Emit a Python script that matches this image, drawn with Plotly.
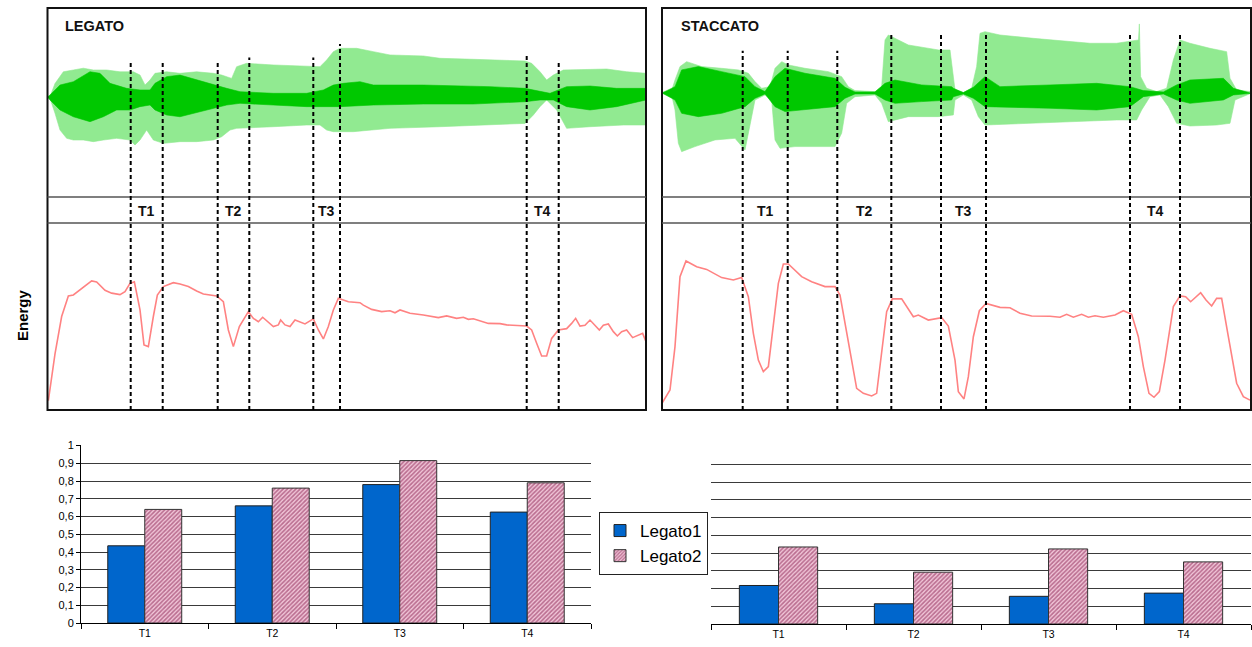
import plotly.graph_objects as go

# ------------------------------------------------------------------ DATA
# time in analysis frames, waveform amplitude (normalised), energy (normalised)

# LEGATO waveform envelopes: (frame, amplitude)
legato_outer_upper = [(0, 0.0), (0.5, 0.004), (1.5, 0.15), (3.17, 0.28), (5.17, 0.30), (7.17, 0.32), (9.17, 0.30),
                      (11.83, 0.30), (14.5, 0.28), (17.17, 0.28), (18.5, 0.244), (19.5, 0.133), (20.5, 0.189),
                      (21.5, 0.263), (23.83, 0.28), (26.5, 0.263), (29.83, 0.28), (33.17, 0.263), (34.83, 0.244),
                      (36.83, 0.207), (37.83, 0.337), (39.83, 0.374), (45.17, 0.356), (51.83, 0.348), (54.5, 0.337),
                      (55.83, 0.411), (57.17, 0.504), (58.5, 0.541), (61.83, 0.541), (65.17, 0.504), (68.5, 0.467),
                      (75.17, 0.456), (78.5, 0.43), (85.17, 0.419), (91.83, 0.411), (95.5, 0.40), (96.83, 0.374),
                      (98.5, 0.281), (99.83, 0.189), (101.17, 0.244), (103.17, 0.30), (106.5, 0.307), (111.83, 0.311),
                      (115.83, 0.281), (119.7, 0.263)]
legato_outer_lower = [(0, 0.0), (0.5, -0.015), (1.5, -0.181), (2.5, -0.367), (3.83, -0.459), (5.17, -0.478),
                      (7.17, -0.478), (9.17, -0.496), (11.17, -0.478), (13.83, -0.459), (16.5, -0.478), (17.5, -0.533),
                      (18.5, -0.478), (19.83, -0.367), (21.17, -0.478), (23.17, -0.515), (26.5, -0.496), (29.83, -0.496),
                      (33.17, -0.478), (34.83, -0.441), (36.5, -0.367), (37.83, -0.348), (39.83, -0.348), (45.17, -0.33),
                      (51.83, -0.311), (54.5, -0.311), (55.83, -0.367), (57.17, -0.385), (61.17, -0.385), (68.5, -0.348),
                      (78.5, -0.33), (88.5, -0.311), (95.5, -0.293), (97.17, -0.2), (98.5, -0.107), (99.83, -0.033),
                      (101.83, -0.144), (103.83, -0.348), (108.5, -0.33), (115.17, -0.311), (119.7, -0.311)]
legato_inner_upper = [(0, 0.0), (0.5, 0.022), (2.5, 0.133), (5.17, 0.17), (8.5, 0.281), (10.5, 0.263), (12.5, 0.152),
                      (15.83, 0.096), (18.5, 0.078), (20.5, 0.078), (21.5, 0.152), (23.83, 0.226), (26.5, 0.244),
                      (29.83, 0.189), (33.17, 0.133), (35.83, 0.096), (38.5, 0.059), (45.17, 0.041), (51.83, 0.041),
                      (55.17, 0.078), (57.17, 0.133), (59.17, 0.152), (62.5, 0.17), (65.17, 0.133), (75.17, 0.133),
                      (88.5, 0.115), (95.5, 0.096), (98.5, 0.059), (100.5, 0.041), (103.83, 0.115), (108.5, 0.122),
                      (113.83, 0.096), (119.7, 0.096)]
legato_inner_lower = [(0, 0.0), (0.5, -0.033), (2.5, -0.144), (5.17, -0.219), (8.5, -0.274), (11.17, -0.219),
                      (13.83, -0.144), (16.5, -0.144), (18.5, -0.107), (20.5, -0.089), (21.5, -0.144), (23.83, -0.2),
                      (26.5, -0.219), (29.83, -0.181), (33.17, -0.126), (35.83, -0.089), (38.5, -0.07), (45.17, -0.089),
                      (51.83, -0.107), (58.5, -0.107), (65.17, -0.089), (75.17, -0.078), (85.17, -0.078), (95.5, -0.052),
                      (98.5, -0.033), (101.17, -0.033), (103.83, -0.107), (108.5, -0.144), (113.83, -0.107),
                      (119.7, -0.033)]

# STACCATO waveform envelopes: (frame, amplitude)
staccato_outer_upper = [(0, 0.004), (1.93, 0.026), (2.6, 0.144), (3.6, 0.293), (4.93, 0.348), (7.93, 0.293),
                        (11.93, 0.274), (15.27, 0.256), (17.27, 0.219), (18.6, 0.126), (19.93, 0.052), (21.6, 0.07),
                        (22.6, 0.274), (23.93, 0.348), (25.27, 0.311), (28.6, 0.274), (33.27, 0.237), (35.93, 0.181),
                        (37.27, 0.07), (38.6, 0.026), (42.6, 0.015), (43.93, 0.07), (44.6, 0.589), (45.27, 0.644),
                        (49.27, 0.533), (55.27, 0.478), (57.6, 0.478), (58.13, 0.219), (58.6, 0.033), (60.27, 0.004),
                        (61.93, 0.052), (62.93, 0.293), (63.6, 0.663), (64.6, 0.681), (67.6, 0.644), (74.27, 0.607),
                        (80.93, 0.57), (85.6, 0.552), (90.93, 0.552), (93.6, 0.57), (95.3, 0.589), (95.47, 0.767),
                        (95.6, 0.40), (95.73, 0.181), (96.93, 0.052), (98.93, 0.015), (100.93, 0.052), (102.27, 0.367),
                        (103.6, 0.589), (105.6, 0.552), (109.6, 0.496), (112.93, 0.459), (113.6, 0.163),
                        (114.93, 0.033), (117.8, 0.015)]
staccato_outer_lower = [(0, -0.004), (1.93, -0.022), (2.6, -0.189), (3.27, -0.559), (3.93, -0.652), (6.6, -0.596),
                        (10.6, -0.522), (14.6, -0.504), (16.6, -0.633), (17.27, -0.448), (18.6, -0.078), (20.6, -0.022),
                        (21.93, -0.078), (22.6, -0.522), (23.6, -0.615), (26.6, -0.596), (30.6, -0.596), (34.6, -0.596),
                        (35.93, -0.448), (36.93, -0.115), (38.6, -0.041), (42.6, -0.022), (43.93, -0.115),
                        (45.27, -0.319), (49.27, -0.263), (55.27, -0.263), (58.27, -0.244), (58.6, -0.078),
                        (60.27, -0.022), (61.93, -0.078), (63.27, -0.263), (64.6, -0.356), (70.93, -0.337),
                        (80.93, -0.319), (90.93, -0.3), (94.93, -0.3), (95.93, -0.189), (97.6, -0.041), (99.6, -0.022),
                        (101.27, -0.152), (102.93, -0.337), (105.6, -0.367), (110.93, -0.356), (113.6, -0.337),
                        (114.6, -0.078), (117.8, -0.004)]
staccato_inner_upper = [(0, 0.0), (2.6, 0.07), (3.93, 0.256), (7.27, 0.293), (11.93, 0.237), (16.6, 0.181),
                        (18.6, 0.07), (20.6, 0.015), (22.6, 0.181), (24.6, 0.274), (28.6, 0.219), (34.6, 0.163),
                        (36.6, 0.063), (38.6, 0.011), (42.6, 0.011), (44.6, 0.107), (46.6, 0.144), (51.93, 0.089),
                        (57.93, 0.07), (58.27, 0.052), (60.27, 0.004), (62.27, 0.063), (64.6, 0.181), (67.6, 0.07),
                        (77.6, 0.089), (86.93, 0.107), (93.6, 0.07), (96.27, 0.026), (100.27, 0.011), (102.93, 0.089),
                        (105.6, 0.144), (112.27, 0.163), (114.27, 0.052), (117.8, 0.004)]
staccato_inner_lower = [(0, 0.0), (2.6, -0.078), (3.93, -0.226), (7.27, -0.263), (11.93, -0.226), (16.6, -0.152),
                        (18.6, -0.059), (20.6, -0.011), (22.6, -0.152), (24.6, -0.207), (28.6, -0.189), (34.6, -0.152),
                        (36.6, -0.059), (38.6, -0.011), (42.6, -0.011), (44.6, -0.078), (46.6, -0.115), (51.93, -0.096),
                        (57.93, -0.078), (58.27, -0.041), (60.27, -0.011), (62.27, -0.059), (64.6, -0.152),
                        (67.6, -0.152), (77.6, -0.17), (86.93, -0.189), (93.6, -0.152), (96.27, -0.041),
                        (100.27, -0.011), (102.93, -0.078), (105.6, -0.115), (112.27, -0.078), (114.27, -0.022),
                        (117.8, -0.004)]

# Energy curves: (frame, energy)
legato_energy = [(0.17, 0.05), (1.5, 0.30), (2.83, 0.50), (4.17, 0.61), (5.17, 0.615), (6.83, 0.65), (8.83, 0.69),
                 (9.83, 0.685), (11.5, 0.64), (12.83, 0.625), (14.5, 0.617), (15.5, 0.633), (16.5, 0.677),
                 (17.37, 0.686), (18.5, 0.535), (19.3, 0.348), (20.17, 0.339), (21.17, 0.50), (21.97, 0.615),
                 (23.17, 0.66), (25.17, 0.681), (26.5, 0.674), (28.17, 0.66), (29.83, 0.636), (31.17, 0.62),
                 (33.83, 0.61), (35.17, 0.579), (36.17, 0.428), (37.17, 0.339), (38.37, 0.446), (40.17, 0.526),
                 (41.17, 0.49), (42.17, 0.472), (43.03, 0.496), (43.83, 0.478), (45.17, 0.446), (46.17, 0.455),
                 (46.63, 0.481), (47.5, 0.455), (48.5, 0.446), (49.5, 0.481), (50.5, 0.472), (51.5, 0.46),
                 (53.17, 0.487), (54.17, 0.428), (55.17, 0.38), (56.17, 0.446), (57.17, 0.535), (58.17, 0.597),
                 (59.17, 0.588), (60.17, 0.579), (62.5, 0.574), (63.17, 0.561), (64.83, 0.538), (66.83, 0.526),
                 (68.5, 0.531), (69.5, 0.52), (70.5, 0.535), (72.5, 0.517), (75.17, 0.508), (78.17, 0.494),
                 (79.83, 0.503), (81.83, 0.49), (83.17, 0.496), (84.17, 0.485), (85.17, 0.488), (86.5, 0.476),
                 (88.17, 0.463), (90.5, 0.462), (91.83, 0.455), (95.83, 0.449), (96.83, 0.428), (97.83, 0.357),
                 (98.83, 0.289), (99.83, 0.289), (100.83, 0.383), (102.17, 0.428), (103.83, 0.435), (104.83, 0.463),
                 (105.63, 0.49), (106.5, 0.449), (107.5, 0.453), (108.5, 0.481), (109.5, 0.455), (110.37, 0.428),
                 (111.17, 0.453), (112.17, 0.46), (113.17, 0.419), (113.97, 0.396), (114.83, 0.419), (115.83, 0.428),
                 (117.03, 0.387), (118.17, 0.401), (119.03, 0.41), (119.7, 0.365)]
staccato_energy = [(0, 0.036), (1.6, 0.107), (2.6, 0.339), (3.6, 0.713), (4.8, 0.797), (6.93, 0.766), (8.93, 0.752),
                   (11.93, 0.708), (14.27, 0.695), (15.93, 0.709), (17.27, 0.606), (18.27, 0.41), (19.27, 0.267),
                   (20.27, 0.205), (21.27, 0.232), (22.27, 0.446), (23.27, 0.677), (24.27, 0.781), (25.27, 0.781),
                   (27.93, 0.713), (29.93, 0.686), (32.6, 0.66), (34.6, 0.66), (35.6, 0.615), (36.93, 0.41),
                   (37.93, 0.25), (38.93, 0.116), (40.27, 0.089), (41.93, 0.075), (42.93, 0.089), (43.93, 0.303),
                   (44.93, 0.526), (46.07, 0.594), (47.93, 0.594), (50.27, 0.499), (51.27, 0.508), (53.27, 0.481),
                   (55.93, 0.494), (57.27, 0.449), (58.6, 0.267), (59.27, 0.098), (60.4, 0.059), (61.27, 0.178),
                   (62.27, 0.392), (63.47, 0.531), (64.8, 0.57), (67.6, 0.549), (69.6, 0.547), (71.6, 0.517),
                   (73.93, 0.503), (77.6, 0.501), (79.6, 0.496), (80.93, 0.512), (82.27, 0.496), (83.93, 0.512),
                   (85.27, 0.496), (86.6, 0.504), (88.27, 0.496), (90.6, 0.508), (92.27, 0.531), (93.93, 0.512),
                   (95.27, 0.392), (96.27, 0.232), (97.4, 0.089), (98.4, 0.068), (99.47, 0.098), (100.6, 0.267),
                   (102.27, 0.553), (103.6, 0.61), (104.73, 0.606), (105.73, 0.579), (107.73, 0.627), (108.8, 0.588),
                   (109.93, 0.556), (110.93, 0.597), (111.93, 0.597), (113.27, 0.392), (114.93, 0.143),
                   (116.27, 0.071), (117.6, 0.053)]

# Transition boundaries (frames) and the amplitude where each marker starts
legato_bounds = [16.64, 23.04, 34.04, 40.36, 53.16, 58.5, 95.84, 102.24]
legato_marker_top = [0.39, 0.39, 0.39, 0.44, 0.44, 0.59, 0.49, 0.39]
staccato_bounds = [16.14, 25.14, 35.06, 45.86, 55.8, 64.8, 93.6, 103.6]
staccato_marker_top = [0.47, 0.47, 0.47, 0.67, 0.67, 0.67, 0.67, 0.67]
transition_labels = ["T1", "T2", "T3", "T4"]

# Bar charts
categories = ["T1", "T2", "T3", "T4"]
legato1 = [0.435, 0.66, 0.78, 0.625]
legato2 = [0.64, 0.76, 0.915, 0.79]
staccato1 = [0.217, 0.114, 0.156, 0.174]
staccato2 = [0.434, 0.292, 0.423, 0.35]
y_ticks = [0, 0.1, 0.2, 0.3, 0.4, 0.5, 0.6, 0.7, 0.8, 0.9, 1]
y_ticktext = ["0", "0,1", "0,2", "0,3", "0,4", "0,5", "0,6", "0,7", "0,8", "0,9", "1"]

# ------------------------------------------------------------------ STYLE / LAYOUT
W, H = 1252, 647
FONT = "Liberation Sans, Arial, sans-serif"
LIGHT_G = "rgb(145,234,145)"
DARK_G = "rgb(0,200,0)"
ENERGY_C = "rgb(255,130,130)"
BLUE = "#0066CC"

def px_x(p):
    return p / W

def px_y(p):
    return 1 - p / H

L_X = [px_x(47.5), px_x(646)]
R_X = [px_x(662), px_x(1251)]
WAVE_Y = [px_y(197), px_y(8)]
EN_Y = [px_y(410), px_y(223)]
L_WAVE_RANGE = [-1.111, 0.989]
R_WAVE_RANGE = [-1.156, 0.944]
L_FR = [0, 119.7]
R_FR = [0, 117.8]


def polygon(upper, lower):
    xs = [p[0] for p in upper] + [p[0] for p in reversed(lower)]
    ys = [p[1] for p in upper] + [p[1] for p in reversed(lower)]
    return xs, ys


fig = go.Figure()

def add_wave(outer_u, outer_l, inner_u, inner_l, xa, ya):
    for up, lo, col in [(outer_u, outer_l, LIGHT_G), (inner_u, inner_l, DARK_G)]:
        xs, ys = polygon(up, lo)
        fig.add_trace(go.Scatter(x=xs, y=ys, fill="toself", fillcolor=col, mode="lines",
                                 line=dict(width=0.6, color=col), xaxis=xa, yaxis=ya,
                                 showlegend=False, hoverinfo="skip"))

add_wave(legato_outer_upper, legato_outer_lower, legato_inner_upper, legato_inner_lower, "x", "y")
add_wave(staccato_outer_upper, staccato_outer_lower, staccato_inner_upper, staccato_inner_lower, "x3", "y3")

for data, xa, ya in [(legato_energy, "x2", "y2"), (staccato_energy, "x4", "y4")]:
    fig.add_trace(go.Scatter(x=[p[0] for p in data], y=[p[1] for p in data], mode="lines",
                             line=dict(color=ENERGY_C, width=1.6), xaxis=xa, yaxis=ya,
                             showlegend=False, hoverinfo="skip"))

pattern_marker = dict(color="rgb(226,170,195)", line=dict(color="#333333", width=1),
                      pattern=dict(shape="/", fgcolor="rgb(130,20,70)", bgcolor="rgb(242,200,218)",
                                   size=3, solidity=0.55))
blue_marker = dict(color=BLUE, line=dict(color="#222222", width=1))

fig.add_trace(go.Bar(x=categories, y=legato1, name="Legato1", marker=blue_marker, xaxis="x5", yaxis="y5"))
fig.add_trace(go.Bar(x=categories, y=legato2, name="Legato2", marker=pattern_marker, xaxis="x5", yaxis="y5"))
fig.add_trace(go.Bar(x=categories, y=staccato1, name="Staccato1", marker=blue_marker, xaxis="x6", yaxis="y6",
                     showlegend=False))
fig.add_trace(go.Bar(x=categories, y=staccato2, name="Staccato2", marker=pattern_marker, xaxis="x6", yaxis="y6",
                     showlegend=False))

hidden = dict(visible=False, fixedrange=True, automargin=False)
bar_x = dict(showline=True, linecolor="black", linewidth=1, ticks="outside", tickson="boundaries",
             ticklen=5, tickcolor="black", tickfont=dict(size=10.5, color="black", family=FONT),
             showgrid=False, zeroline=False, automargin=False, fixedrange=True)
bar_grid = dict(range=[0, 1.003], showgrid=True, gridcolor="#3a3a3a", gridwidth=1, zeroline=False,
                tickvals=y_ticks, automargin=False, fixedrange=True)

fig.update_layout(
    width=W, height=H, margin=dict(l=0, r=0, t=0, b=0, pad=0, autoexpand=False),
    paper_bgcolor="white", plot_bgcolor="rgba(0,0,0,0)",
    font=dict(family=FONT, color="black"),
    barmode="group", bargap=0.42, bargroupgap=0,
    xaxis=dict(domain=L_X, range=L_FR, anchor="y", **hidden),
    yaxis=dict(domain=WAVE_Y, range=L_WAVE_RANGE, anchor="x", **hidden),
    xaxis2=dict(domain=L_X, range=L_FR, anchor="y2", **hidden),
    yaxis2=dict(domain=EN_Y, range=[0, 1], anchor="x2", **hidden),
    xaxis3=dict(domain=R_X, range=R_FR, anchor="y3", **hidden),
    yaxis3=dict(domain=WAVE_Y, range=R_WAVE_RANGE, anchor="x3", **hidden),
    xaxis4=dict(domain=R_X, range=R_FR, anchor="y4", **hidden),
    yaxis4=dict(domain=EN_Y, range=[0, 1], anchor="x4", **hidden),
    xaxis5=dict(domain=[px_x(81), px_x(591)], anchor="y5", **bar_x),
    yaxis5=dict(domain=[px_y(623), px_y(445)], anchor="x5", ticktext=y_ticktext, ticks="outside", ticklen=4,
                tickcolor="black", showline=True, linecolor="black",
                tickfont=dict(size=11, color="black", family=FONT), **bar_grid),
    xaxis6=dict(domain=[px_x(711), px_x(1251)], anchor="y6", **bar_x),
    yaxis6=dict(domain=[px_y(624), px_y(446)], anchor="x6", showticklabels=False, showline=False, **bar_grid),
    legend=dict(x=px_x(599), y=px_y(512), xanchor="left", yanchor="top", bordercolor="#222222",
                borderwidth=1, bgcolor="white", font=dict(size=17, family=FONT, color="black"),
                itemwidth=30, tracegroupgap=0),
)

shapes = []
annotations = []

def wave_to_paper(a, rng):
    return WAVE_Y[0] + (a - rng[0]) / (rng[1] - rng[0]) * (WAVE_Y[1] - WAVE_Y[0])

for px0, px1, rng, bounds, tops, xa in [(L_X[0], L_X[1], L_WAVE_RANGE, legato_bounds, legato_marker_top, "x"),
                                         (R_X[0], R_X[1], R_WAVE_RANGE, staccato_bounds, staccato_marker_top, "x3")]:
    shapes.append(dict(type="rect", xref="paper", yref="paper", x0=px0, x1=px1, y0=EN_Y[0], y1=WAVE_Y[1],
                       line=dict(color="#111111", width=2), layer="above"))
    for yy in (WAVE_Y[0], EN_Y[1]):
        shapes.append(dict(type="line", xref="paper", yref="paper", x0=px0, x1=px1, y0=yy, y1=yy,
                           line=dict(color="#555555", width=1.5), layer="above"))
    for b, t in zip(bounds, tops):
        shapes.append(dict(type="line", xref=xa, yref="paper", x0=b, x1=b, y0=EN_Y[0],
                           y1=wave_to_paper(t, rng), line=dict(color="black", width=2, dash="4px,3px"),
                           layer="above"))
    for i, lab in enumerate(transition_labels):
        annotations.append(dict(text="<b>%s</b>" % lab, xref=xa, yref="paper",
                                x=(bounds[2 * i] + bounds[2 * i + 1]) / 2, y=px_y(211),
                                xanchor="center", yanchor="middle",
                                showarrow=False, font=dict(size=14, family=FONT, color="#111111")))

annotations.append(dict(text="<b>LEGATO</b>", xref="paper", yref="paper", x=px_x(63), y=px_y(26),
                        xanchor="left", yanchor="middle", showarrow=False,
                        font=dict(size=14.5, family=FONT, color="#111111")))
annotations.append(dict(text="<b>STACCATO</b>", xref="paper", yref="paper", x=px_x(679), y=px_y(26),
                        xanchor="left", yanchor="middle", showarrow=False,
                        font=dict(size=14.5, family=FONT, color="#111111")))
annotations.append(dict(text="<b>Energy</b>", xref="paper", yref="paper", x=px_x(22), y=px_y(315),
                        xanchor="center", yanchor="middle", textangle=-90, showarrow=False,
                        font=dict(size=15, family=FONT, color="black")))

fig.update_layout(shapes=shapes, annotations=annotations)

fig.write_html("out.html", config={"displayModeBar": False, "staticPlot": True},
               post_script="document.body.style.margin='0';document.body.style.overflow='hidden';")
